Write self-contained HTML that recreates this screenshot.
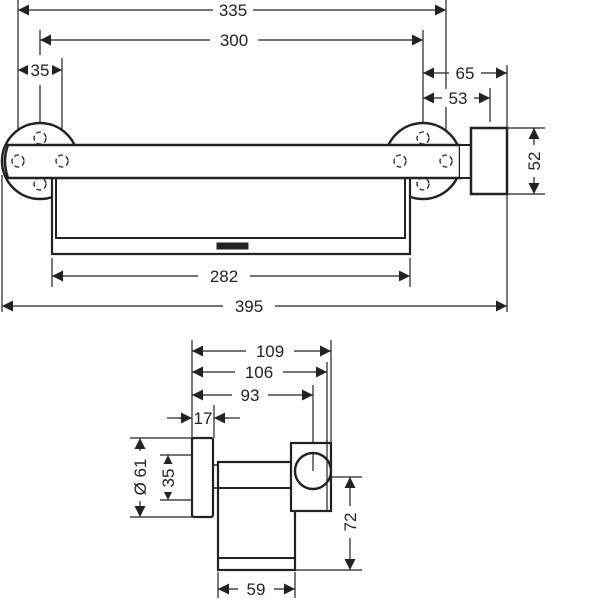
<!DOCTYPE html>
<html><head><meta charset="utf-8"><style>
html,body{margin:0;padding:0;background:#fff}
svg{display:block}
text{font-family:"Liberation Sans",sans-serif;font-size:17px;fill:#222}
</style></head><body>
<svg width="600" height="600" viewBox="0 0 600 600" xmlns="http://www.w3.org/2000/svg">
<defs>
<marker id="a" viewBox="0 0 10 10" refX="10" refY="5" markerWidth="12" markerHeight="11" markerUnits="userSpaceOnUse" orient="auto-start-reverse"><path d="M0,0 L10,5 L0,10 z" fill="#222"/></marker>
</defs>
<g stroke="#222" fill="none">
<g stroke-width="1.2">
<line x1="18" y1="0" x2="18" y2="150"/>
<line x1="446" y1="0" x2="446" y2="150"/>
<line x1="40" y1="30" x2="40" y2="55"/>
<line x1="40" y1="85" x2="40" y2="128"/>
<line x1="423" y1="30" x2="423" y2="122"/>
<line x1="62" y1="58" x2="62" y2="155"/>
<line x1="490" y1="88" x2="490" y2="122"/>
<line x1="507" y1="65" x2="507" y2="312"/>
<line x1="2" y1="175" x2="2" y2="312"/>
<line x1="52" y1="258" x2="52" y2="287"/>
<line x1="410" y1="258" x2="410" y2="287"/>
<line x1="507" y1="128" x2="545" y2="128"/>
<line x1="507" y1="194" x2="545" y2="194"/>
</g>
<g stroke-width="1.2" marker-start="url(#a)" marker-end="url(#a)">
<line x1="18" y1="10" x2="446" y2="10"/>
<line x1="40" y1="40" x2="423" y2="40"/>
<line x1="18" y1="70" x2="62" y2="70"/>
<line x1="423" y1="73" x2="507" y2="73"/>
<line x1="423" y1="98" x2="490" y2="98"/>
<line x1="534" y1="128" x2="534" y2="194"/>
<line x1="52" y1="276" x2="410" y2="276"/>
<line x1="2" y1="306" x2="507" y2="306"/>
</g>
<circle cx="40" cy="161" r="38" stroke-width="2.5" fill="#fff"/>
<circle cx="423" cy="161" r="38" stroke-width="2.5" fill="#fff"/>
<path d="M52 178 V254 H410 V178" stroke-width="2.2" fill="#fff"/>
<path d="M56 178 V238 H405 V178" stroke-width="2"/>
<rect x="217" y="243" width="31" height="6" fill="#222"/>
<path d="M8 145 H460 V178 H8 Q2 161 8 145 Z" stroke-width="2.5" fill="#fff"/>
<path d="M460 145 H471 Q485 161 471 178 H460" stroke-width="2" fill="#fff"/>
<rect x="471" y="128" width="36" height="66" stroke-width="2.5" fill="#fff"/>
<g stroke-width="1.3" stroke-dasharray="5 3">
<circle cx="18" cy="161" r="6"/><circle cx="62" cy="161" r="6"/>
<circle cx="40" cy="138" r="6"/><circle cx="40" cy="184" r="6"/>
<circle cx="400" cy="161" r="6"/><circle cx="446" cy="161" r="6"/>
<circle cx="423" cy="138" r="6"/><circle cx="423" cy="184" r="6"/>
</g>

<g stroke-width="1.2">
<line x1="192" y1="340" x2="192" y2="438"/>
<line x1="331" y1="340" x2="331" y2="443"/>
<line x1="327" y1="362" x2="327" y2="511"/>
<line x1="313" y1="385" x2="313" y2="471"/>
<line x1="214" y1="405" x2="214" y2="438"/>
<line x1="130" y1="438" x2="192" y2="438"/>
<line x1="130" y1="517" x2="192" y2="517"/>
<line x1="160" y1="455" x2="192" y2="455"/>
<line x1="160" y1="500" x2="192" y2="500"/>
<line x1="331" y1="477" x2="362" y2="477"/>
<line x1="295" y1="570" x2="362" y2="570"/>
<line x1="218" y1="572" x2="218" y2="598"/>
<line x1="295" y1="572" x2="295" y2="598"/>
<line x1="167" y1="418" x2="182" y2="418"/>
<line x1="224" y1="418" x2="240" y2="418"/>
</g>
<g stroke-width="1.2" marker-start="url(#a)" marker-end="url(#a)">
<line x1="192" y1="351" x2="331" y2="351"/>
<line x1="192" y1="372" x2="327" y2="372"/>
<line x1="192" y1="395" x2="313" y2="395"/>
<line x1="140" y1="438" x2="140" y2="517"/>
<line x1="168" y1="455" x2="168" y2="500"/>
<line x1="350" y1="477" x2="350" y2="570"/>
<line x1="218" y1="589" x2="295" y2="589"/>
</g>
<g stroke-width="1.2" marker-end="url(#a)">
<line x1="178" y1="418" x2="192" y2="418"/>
<line x1="228" y1="418" x2="214" y2="418"/>
</g>
<rect x="218" y="462" width="77" height="108" stroke-width="2.2" fill="#fff"/>
<line x1="218" y1="488" x2="295" y2="488" stroke-width="2"/>
<line x1="218" y1="558" x2="295" y2="558" stroke-width="2"/>
<line x1="213" y1="465" x2="218" y2="465" stroke-width="1.5"/>
<line x1="213" y1="488" x2="218" y2="488" stroke-width="1.5"/>
<rect x="192" y="438" width="21" height="79" rx="2" stroke-width="2.2" fill="#fff"/>
<rect x="291" y="443" width="40" height="68" stroke-width="2.2" fill="#fff"/>
<circle cx="313" cy="471" r="18" stroke-width="2.4" fill="#fff"/>
<line x1="313" y1="453" x2="313" y2="471" stroke-width="1.2"/>
<line x1="327" y1="440" x2="327" y2="511" stroke-width="1.2"/>
</g>
<g>
<rect x="213" y="1" width="40" height="18" fill="#fff"/><text x="233" y="16" text-anchor="middle">335</text>
<rect x="210" y="31" width="48" height="18" fill="#fff"/><text x="234" y="46" text-anchor="middle">300</text>
<rect x="28" y="61" width="24" height="18" fill="#fff"/><text x="40" y="76" text-anchor="middle">35</text>
<rect x="449" y="64" width="32" height="18" fill="#fff"/><text x="465" y="79" text-anchor="middle">65</text>
<rect x="442" y="89" width="32" height="18" fill="#fff"/><text x="458" y="104" text-anchor="middle">53</text>
<rect x="525" y="145" width="18" height="32" fill="#fff"/><text x="0" y="0" text-anchor="middle" transform="translate(540,161) rotate(-90)">52</text>
<rect x="198" y="267" width="52" height="18" fill="#fff"/><text x="224" y="282" text-anchor="middle">282</text>
<rect x="223" y="297" width="52" height="18" fill="#fff"/><text x="249" y="312" text-anchor="middle">395</text>
<rect x="246" y="342" width="48" height="18" fill="#fff"/><text x="270" y="357" text-anchor="middle">109</text>
<rect x="235" y="363" width="48" height="18" fill="#fff"/><text x="259" y="378" text-anchor="middle">106</text>
<rect x="232" y="386" width="36" height="18" fill="#fff"/><text x="250" y="401" text-anchor="middle">93</text>
<text x="203" y="424" text-anchor="middle">17</text>
<rect x="131" y="451" width="18" height="50" fill="#fff"/><text x="0" y="0" text-anchor="middle" transform="translate(146,477) rotate(-90)">Ø 61</text>
<rect x="160" y="464" width="16" height="28" fill="#fff"/><text x="0" y="0" text-anchor="middle" transform="translate(174,478) rotate(-90)">35</text>
<rect x="341" y="506" width="18" height="32" fill="#fff"/><text x="0" y="0" text-anchor="middle" transform="translate(356,522) rotate(-90)">72</text>
<rect x="238" y="580" width="36" height="18" fill="#fff"/><text x="256" y="595" text-anchor="middle">59</text>
</g>
</svg>
</body></html>
